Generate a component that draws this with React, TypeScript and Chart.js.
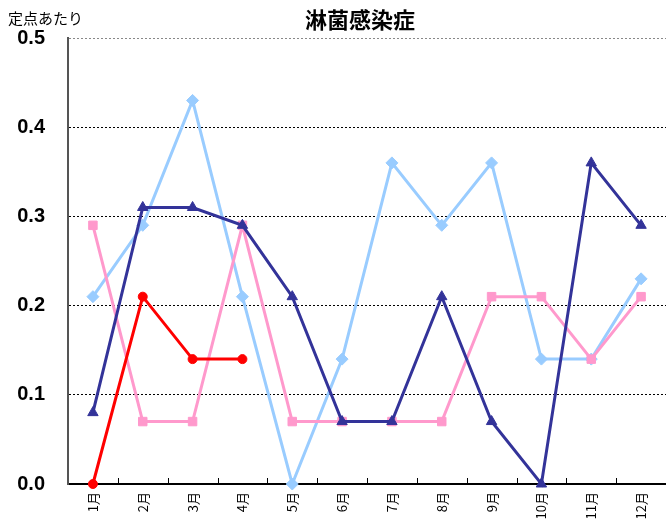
import React, { useEffect, useRef } from "react";
import { Chart, registerables } from "chart.js";

Chart.register(...registerables);

const months = ["1月", "2月", "3月", "4月", "5月", "6月", "7月", "8月", "9月", "10月", "11月", "12月"];
const seriesLightBlue = [0.21, 0.29, 0.43, 0.21, 0.0, 0.14, 0.36, 0.29, 0.36, 0.14, 0.14, 0.23];
const seriesPink = [0.29, 0.07, 0.07, 0.29, 0.07, 0.07, 0.07, 0.07, 0.21, 0.21, 0.14, 0.21];
const seriesNavy = [0.08, 0.31, 0.31, 0.29, 0.21, 0.07, 0.07, 0.21, 0.07, 0.0, 0.36, 0.29];
const seriesRed = [0.0, 0.21, 0.14, 0.14];
const yMin = 0;
const yMax = 0.5;
const yStep = 0.1;
const chartTitle = "淋菌感染症";
const yTitle = "定点あたり";

const CJK = '"Noto Sans CJK JP", "Noto Sans", sans-serif';

const titlePlugin = {
  id: "customTitles",
  beforeDatasetsDraw(chart: any) {
    // inward tick marks between categories on the x axis
    const ctx = chart.ctx;
    const xs = chart.scales.x;
    const bottom = chart.chartArea.bottom;
    ctx.save();
    ctx.strokeStyle = "#000";
    ctx.lineWidth = 1;
    ctx.beginPath();
    for (let i = 1; i < months.length; i++) {
      const px = Math.round((xs.getPixelForTick(i) + xs.getPixelForTick(i - 1)) / 2) + 0.5;
      ctx.moveTo(px, bottom);
      ctx.lineTo(px, bottom - 6);
    }
    ctx.stroke();
    ctx.restore();
  },
  afterDraw(chart: any) {
    const ctx = chart.ctx;
    ctx.save();
    ctx.fillStyle = "#000";
    ctx.textBaseline = "middle";
    ctx.font = `bold 22px ${CJK}`;
    ctx.textAlign = "center";
    ctx.fillText(chartTitle, 360, 20);
    ctx.font = `15px ${CJK}`;
    ctx.textAlign = "left";
    ctx.fillText(yTitle, 8, 18);
    ctx.restore();
  },
};

export default function App() {
  const ref = useRef<HTMLCanvasElement | null>(null);
  useEffect(() => {
    if (!ref.current) return;
    const mk = (data: number[], color: string, style: string, radius: number, order: number) => ({
      data,
      borderColor: color,
      backgroundColor: color,
      pointBackgroundColor: color,
      pointBorderColor: color,
      pointStyle: style,
      pointRadius: radius,
      pointBorderWidth: 1,
      borderWidth: 3,
      tension: 0,
      clip: false as any,
      order,
    });
    const chart = new Chart(ref.current, {
      type: "line",
      data: {
        labels: months,
        datasets: [
          mk(seriesRed, "#FF0000", "circle", 4.5, 0),
          mk(seriesNavy, "#333399", "triangle", 6, 1),
          mk(seriesPink, "#FF99CC", "rect", 6, 2),
          mk(seriesLightBlue, "#99CCFF", "rectRot", 6, 3),
        ],
      },
      options: {
        animation: false,
        responsive: false,
        devicePixelRatio: 1,
        layout: { autoPadding: false, padding: { left: 0, top: 38, right: 0, bottom: 0 } },
        plugins: {
          legend: { display: false },
          title: { display: false },
          tooltip: { enabled: false },
        },
        scales: {
          x: {
            offset: true,
            afterFit: (s: any) => {
              s.height = 38;
              s.paddingRight = 0;
              s.paddingLeft = 0;
            },
            grid: {
              offset: true,
              drawOnChartArea: false,
              drawTicks: false,
              color: "#000",
              lineWidth: 1,
            },
            border: { display: true, color: "#000", width: 2 },
            ticks: {
              autoSkip: false,
              minRotation: 90,
              maxRotation: 90,
              padding: 8,
              color: "#000",
              font: { family: CJK, size: 13 },
            },
          },
          y: {
            min: yMin,
            max: yMax,
            afterFit: (s: any) => {
              s.width = 68;
            },
            grid: {
              drawTicks: false,
              color: (c: any) => (c.tick && c.tick.value >= yMax - 1e-9 ? "#888" : "#000"),
              lineWidth: 1,
            },
            border: { display: true, color: "#555", width: 2, dash: [2, 2] },
            ticks: {
              stepSize: yStep,
              padding: 23,
              color: "#000",
              font: { family: '"Liberation Sans", Arial, sans-serif', size: 20, weight: "bold" },
              callback: (v: any) => Number(v).toFixed(1),
            },
          },
        },
      },
      plugins: [titlePlugin],
    } as any);
    return () => chart.destroy();
  }, []);
  return (
    <div style={{ position: "absolute", left: 0, top: 0, width: 666, height: 522, background: "#fff" }}>
      <canvas ref={ref} width={666} height={522} style={{ display: "block" }} />
    </div>
  );
}
